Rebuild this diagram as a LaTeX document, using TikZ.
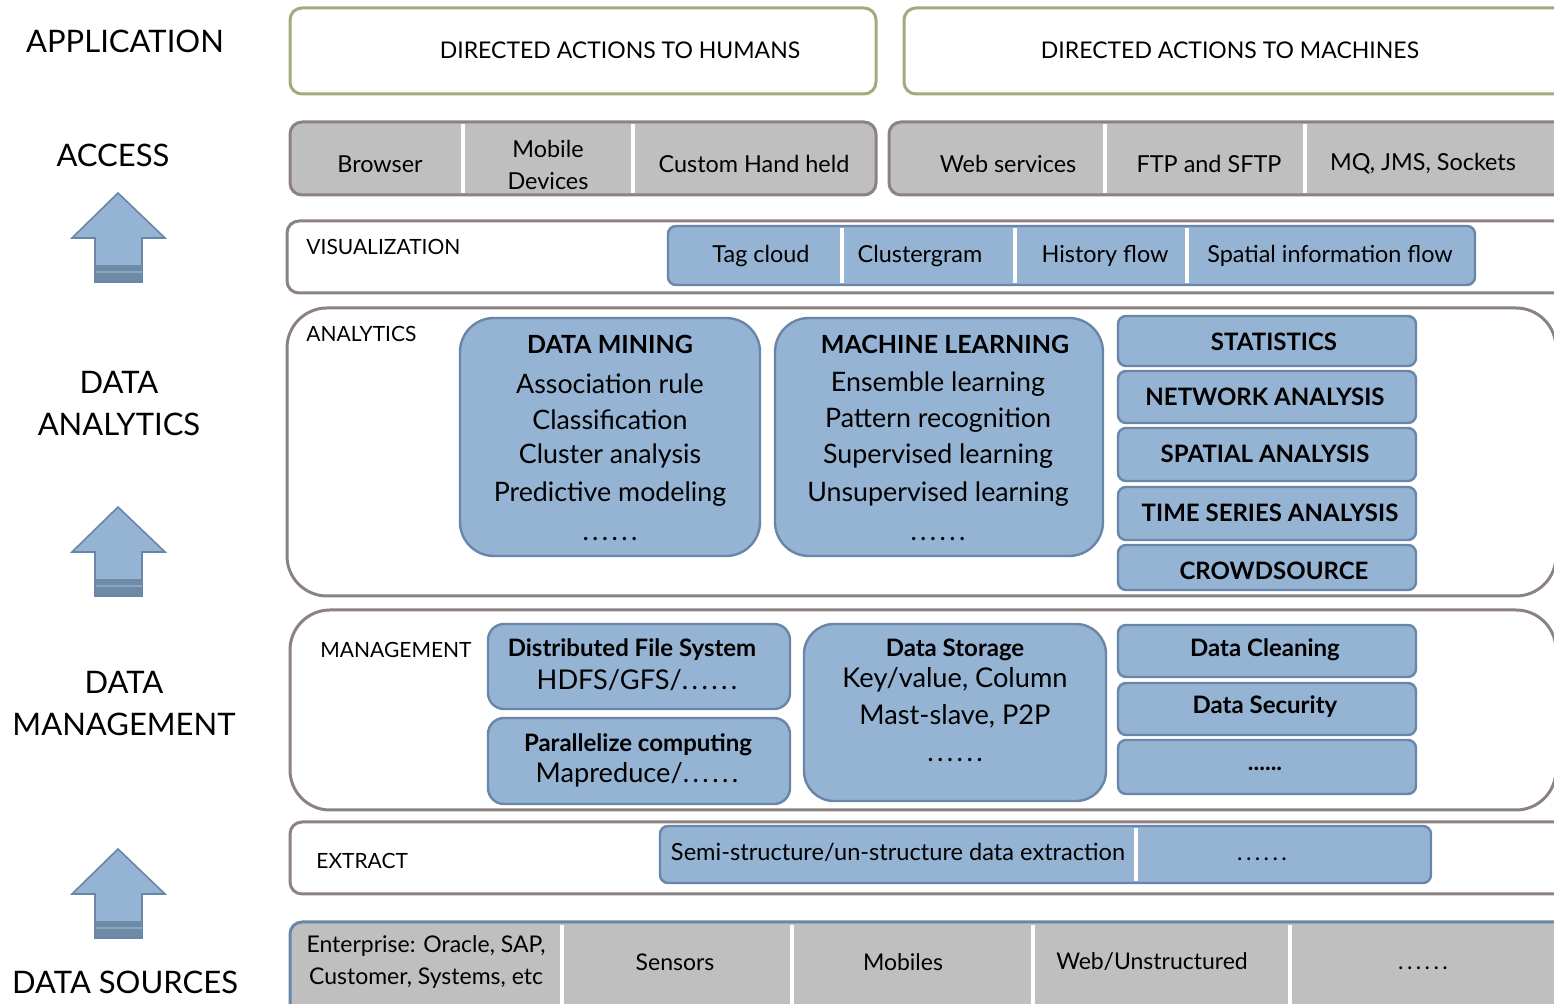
\documentclass[tikz,border=0pt]{standalone}
\usepackage{fontspec}
\setmainfont{Lato}
\definecolor{olivec}{RGB}{160,172,122}
\definecolor{grayf}{RGB}{191,191,191}
\definecolor{grayb}{RGB}{140,130,130}
\definecolor{bluef}{RGB}{149,179,211}
\definecolor{blueb}{RGB}{105,134,168}
\definecolor{band}{RGB}{110,138,166}
\definecolor{bandl}{RGB}{140,165,190}
\newcommand{\sixdots}{.\kern1.7pt.\kern1.7pt.\kern1.7pt.\kern1.7pt.\kern1.7pt.}
\begin{document}
\begin{tikzpicture}[x=0.5pt,y=-0.5pt,
  every node/.style={inner sep=0pt, text=black},
  olivebox/.style={draw=olivec, fill=white, line width=1.5pt, rounded corners=6pt},
  graybox/.style={draw=grayb, fill=grayf, line width=1.5pt, rounded corners=6pt},
  whitebox/.style={draw=grayb, fill=white, line width=1.5pt},
  bluebox/.style={draw=blueb, fill=bluef, line width=1.2pt, rounded corners=4pt},
  divider/.style={draw=white, line width=1.6pt},
  upar/.style={draw=blueb, fill=bluef, line width=0.8pt},
  lbl/.style={font=\fontsize{15.5}{21}\selectfont, align=center},
  apptxt/.style={font=\fontsize{11.5}{14}\selectfont},
  itm/.style={font=\fontsize{11.7}{16}\selectfont, align=center},
  layer/.style={font=\fontsize{10.5}{13}\selectfont, anchor=west},
  btitle/.style={font=\bfseries\fontsize{12.5}{14}\selectfont},
  bitem/.style={font=\fontsize{13.4}{15}\selectfont},
  stitle/.style={font=\bfseries\fontsize{12}{14}\selectfont},
  mitem/.style={font=\fontsize{13.6}{15}\selectfont},
  srctxt/.style={font=\fontsize{11.5}{16}\selectfont, align=center}
]
\useasboundingbox (0,0) rectangle (1554,1004);
\clip (0,0) rectangle (1554,1004);

% ---------- left labels ----------
\node[lbl] (Lapp) at (125,41) {APPLICATION};
\node[lbl] (Lacc) at (113,155) {ACCESS};
\node[lbl] (Lana) at (119,404) {DATA\\ANALYTICS};
\node[lbl] (Lman) at (124,704) {DATA\\MANAGEMENT};
\node[lbl] (Lsrc) at (125,982) {DATA SOURCES};

% ---------- arrows ----------
\foreach \t in {193,507,849}{
  \draw[upar] (118,\t) -- (165,\t+45) -- (142,\t+45) -- (142,\t+89) -- (95,\t+89) -- (95,\t+45) -- (72,\t+45) -- cycle;
  \fill[band] (95.5,\t+72) rectangle (141.5,\t+88.5);
  \draw[bandl, line width=0.8pt] (95.5,\t+79) -- (141.5,\t+79);
}

% ---------- application ----------
\draw[olivebox] (290,8) rectangle (876,94);
\node[apptxt] (hum) at (620,50) {DIRECTED ACTIONS TO HUMANS};
\draw[olivebox] (904,8) rectangle (1566,94);
\node[apptxt] (mac) at (1230,50) {DIRECTED ACTIONS TO MACHINES};

% ---------- access ----------
\draw[graybox] (290,122) rectangle (876,195);
\draw[divider] (463,124) -- (463,193);
\draw[divider] (633,124) -- (633,193);
\node[itm] (brw) at (380,164) {Browser};
\node[itm] (mob) at (548,165) {Mobile\\Devices};
\node[itm] (chh) at (754,164) {Custom Hand held};
\draw[graybox] (889,122) rectangle (1566,195);
\draw[divider] (1105,124) -- (1105,193);
\draw[divider] (1305,124) -- (1305,193);
\node[itm] (web) at (1008,164) {Web services};
\node[itm] (ftp) at (1209,164) {FTP and SFTP};
\node[itm] (mq) at (1423,164) {MQ, JMS, Sockets};

% ---------- visualization ----------
\draw[whitebox, rounded corners=6pt] (287,221) rectangle (1566,293);
\node[layer] (vis) at (306,247) {VISUALIZATION};
\draw[bluebox] (668,226) rectangle (1475,285);
\draw[divider] (842,228) -- (842,283);
\draw[divider] (1015,228) -- (1015,283);
\draw[divider] (1187,228) -- (1187,283);
\node[itm] (tag) at (761,256) {Tag cloud};
\node[itm] (clu) at (920,256) {Clustergram};
\node[itm] (his) at (1105,256) {History flow};
\node[itm] (spa) at (1330,256) {Spatial information flow};

% ---------- analytics ----------
\draw[whitebox, rounded corners=20pt] (287,308) rectangle (1556,596);
\node[layer] (ana) at (306,334) {ANALYTICS};
\draw[bluebox, rounded corners=17pt] (460,318) rectangle (760,556);
\node[btitle] (dm0) at (610,344) {DATA MINING};
\node[bitem] (dm1) at (610,384) {Association rule};
\node[bitem] (dm2) at (610,420) {Classification};
\node[bitem] (dm3) at (610,456) {Cluster analysis};
\node[bitem] (dm4) at (610,494) {Predictive modeling};
\node[bitem] (dm5) at (610,539) {\sixdots};
\draw[bluebox, rounded corners=17pt] (775,318) rectangle (1103,556);
\node[btitle] (ml0) at (945,344) {MACHINE LEARNING};
\node[bitem] (ml1) at (938,384) {Ensemble learning};
\node[bitem] (ml2) at (938,420) {Pattern recognition};
\node[bitem] (ml3) at (938,456) {Supervised learning};
\node[bitem] (ml4) at (938,494) {Unsupervised learning};
\node[bitem] (ml5) at (938,539) {\sixdots};
\draw[bluebox] (1118,316) rectangle (1416,366);
\node[stitle] (st1) at (1274,342) {STATISTICS};
\draw[bluebox] (1118,371) rectangle (1416,423);
\node[stitle] (st2) at (1265,397) {NETWORK ANALYSIS};
\draw[bluebox] (1118,428) rectangle (1416,481);
\node[stitle] (st3) at (1265,454) {SPATIAL ANALYSIS};
\draw[bluebox] (1118,487) rectangle (1416,540);
\node[stitle] (st4) at (1270,513) {TIME SERIES ANALYSIS};
\draw[bluebox] (1118,545) rectangle (1416,590);
\node[stitle] (st5) at (1274,571) {CROWDSOURCE};

% ---------- management ----------
\draw[whitebox, rounded corners=20pt] (290,610) rectangle (1556,810);
\node[layer] (man) at (320,650) {MANAGEMENT};
\draw[bluebox, rounded corners=8pt] (488,624) rectangle (790,709);
\node[stitle] (dfs0) at (632,650) {Distributed File System};
\node[mitem] (dfs1) at (637,680) {HDFS/GFS/\sixdots};
\draw[bluebox, rounded corners=8pt] (488,718) rectangle (790,804);
\node[stitle] (pc0) at (638,745) {Parallelize computing};
\node[mitem] (pc1) at (637,775) {Mapreduce/\sixdots};
\draw[bluebox, rounded corners=15pt] (804,624) rectangle (1106,801);
\node[stitle] (ds0) at (955,650) {Data Storage};
\node[mitem] (ds1) at (955,680) {Key/value, Column};
\node[mitem] (ds2) at (955,716) {Mast-slave, P2P};
\node[mitem] (ds3) at (955,760) {\sixdots};
\draw[bluebox] (1118,625) rectangle (1416,677);
\node[stitle] (dc) at (1265,650) {Data Cleaning};
\draw[bluebox] (1118,683) rectangle (1416,735);
\node[stitle] (dsec) at (1265,707) {Data Security};
\draw[bluebox] (1118,740) rectangle (1416,794);
\node[stitle] (dd) at (1265,769) {......};

% ---------- extract ----------
\draw[whitebox, rounded corners=6pt] (290,822) rectangle (1566,894);
\node[layer] (ext) at (316,861) {EXTRACT};
\draw[bluebox] (660,826) rectangle (1431,883);
\draw[divider] (1136,828) -- (1136,881);
\node[font=\fontsize{11.8}{14}\selectfont] (semi) at (898,852) {Semi-structure/un-structure data extraction};
\node[font=\fontsize{11.5}{14}\selectfont] (exd) at (1262,859) {\sixdots};

% ---------- data sources ----------
\draw[draw=blueb, fill=grayf, line width=1.5pt, rounded corners=6pt] (290,922) rectangle (1566,1030);
\draw[divider] (562,925) -- (562,1004);
\draw[divider] (792,925) -- (792,1004);
\draw[divider] (1033,925) -- (1033,1004);
\draw[divider] (1290,925) -- (1290,1004);
\node[srctxt] (ent) at (426,962) {Enterprise: Oracle, SAP,\\Customer, Systems, etc};
\node[srctxt] (sen) at (675,962) {Sensors};
\node[srctxt] (mobs) at (903,962) {Mobiles};
\node[srctxt] (wu) at (1152,962) {Web/Unstructured};
\node[srctxt] (sd) at (1423,968) {\sixdots};
\end{tikzpicture}
\end{document}
